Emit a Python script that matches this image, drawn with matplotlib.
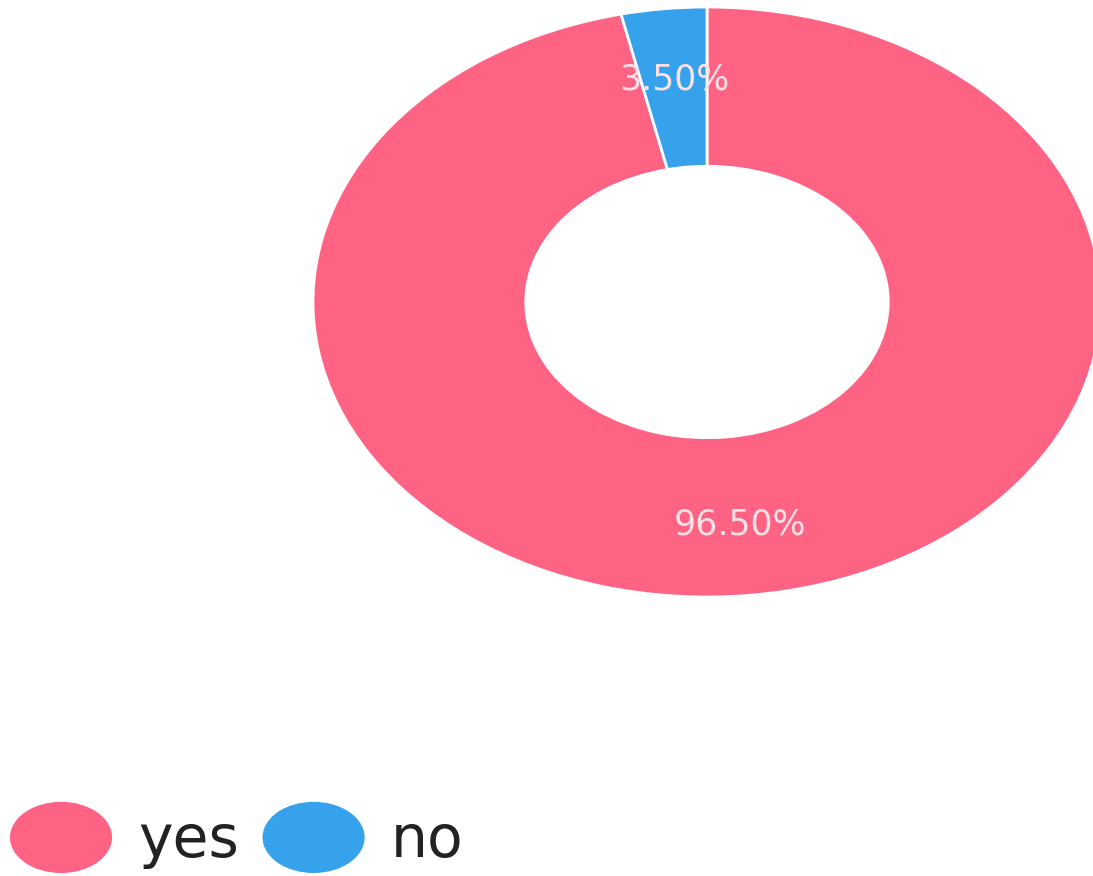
import matplotlib.pyplot as plt
from matplotlib.patches import Ellipse
from matplotlib.legend_handler import HandlerPatch

labels = ['yes', 'no']
values = [96.5, 3.5]
colors = ['#FF6384', '#36A2EB']


class HandlerEllipse(HandlerPatch):
    def create_artists(self, legend, orig_handle, xdescent, ydescent,
                       width, height, fontsize, trans):
        center = (0.5 * width - xdescent, 0.5 * height - ydescent)
        p = Ellipse(xy=center, width=width, height=height)
        self.update_prop(p, orig_handle, legend)
        p.set_edgecolor('none')
        p.set_transform(trans)
        return [p]


fig = plt.figure(figsize=(10.93, 8.76), dpi=100)
# donut is stretched wider than tall in the reference
ax = fig.add_axes([313 / 1093, 279 / 876, 788 / 1093, 590 / 876])

wedges, texts, autotexts = ax.pie(
    values, colors=colors, startangle=90, counterclock=False,
    autopct='%.2f%%', pctdistance=0.76,
    wedgeprops=dict(width=0.54, edgecolor='white', linewidth=2),
    textprops=dict(color='#fbe0e6', fontsize=25))
ax.set_aspect('auto')
ax.set_xlim(-1, 1)
ax.set_ylim(-1, 1)

fig.legend(wedges, labels, loc='lower left', ncol=2,
           bbox_to_anchor=(10 / 1093, 3 / 876),
           handler_map={w: HandlerEllipse() for w in wedges},
           frameon=False, fontsize=42, handlelength=1.75, handleheight=1.5,
           handletextpad=0.45, columnspacing=0.4, borderpad=0,
           borderaxespad=0, labelcolor='#222222')

fig.savefig('out.png', dpi=100, facecolor='white')
